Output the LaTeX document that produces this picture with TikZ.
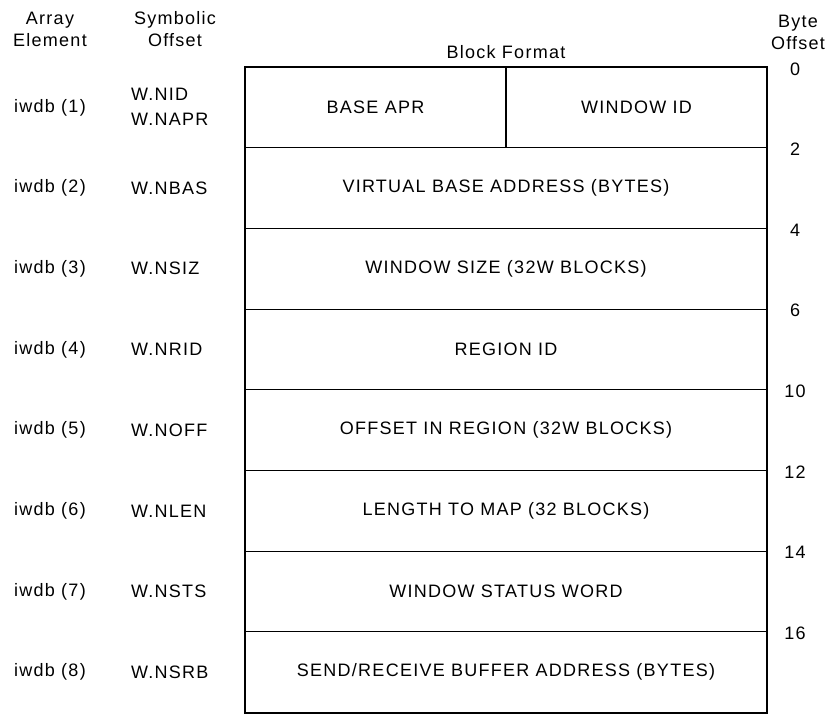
\documentclass[tikz,border=0pt]{standalone}
\usepackage{fontspec}
\setmainfont[LetterSpace=7]{Liberation Sans}
\usetikzlibrary{positioning}

\begin{document}
\begin{tikzpicture}[x=1pt, y=-1pt, line cap=rect, line join=miter,
  every node/.style={font=\fontsize{18}{22}\selectfont, inner sep=0pt},
  field/.style={draw, line width=1.1pt, minimum width=522pt, minimum height=80.7pt},
  half/.style={draw, line width=1.1pt, minimum width=261pt, minimum height=80.7pt},
  elem/.style={},
  sym/.style={anchor=west},
  boff/.style={}]

\useasboundingbox (0,0) rectangle (825,713);

% column headings
\node[align=center] (hdarr) at (50,29) {Array\\Element};
\node[align=center] (hdsym) at (175,29) {Symbolic\\Offset};
\node (hdblk) at (506,52) {Block Format};
\node[align=center] (hdbyte) at (798,32) {Byte\\Offset};

% block format
\node[half] (apr) at (375.5,107.35) {BASE APR};
\node[half] (wid) at (636.5,107.35) {WINDOW ID};
\node[field] (nbas) at (506,188.05) {VIRTUAL BASE ADDRESS (BYTES)};
\node[field] (nsiz) at (506,268.75) {WINDOW SIZE (32W BLOCKS)};
\node[field] (nrid) at (506,349.45) {REGION ID};
\node[field] (noff) at (506,430.15) {OFFSET IN REGION (32W BLOCKS)};
\node[field] (nlen) at (506,510.85) {LENGTH TO MAP (32 BLOCKS)};
\node[field] (nsts) at (506,591.55) {WINDOW STATUS WORD};
\node[field] (nsrb) at (506,672.25) {SEND/RECEIVE BUFFER ADDRESS (BYTES)};
\draw[line width=1.6pt] (apr.north west) rectangle (nsrb.south east);

% array elements
\node[elem] (e1) at (50,107.35) {iwdb (1)};
\node[elem] (e2) at (50,188.05) {iwdb (2)};
\node[elem] (e3) at (50,268.75) {iwdb (3)};
\node[elem] (e4) at (50,349.45) {iwdb (4)};
\node[elem] (e5) at (50,430.15) {iwdb (5)};
\node[elem] (e6) at (50,510.85) {iwdb (6)};
\node[elem] (e7) at (50,591.55) {iwdb (7)};
\node[elem] (e8) at (50,672.25) {iwdb (8)};

% symbolic offsets
\node[sym] (s1a) at (131,94) {W.NID};
\node[sym] (s1b) at (131,119) {W.NAPR};
\node[sym] (s2) at (131,188.05) {W.NBAS};
\node[sym] (s3) at (131,268.75) {W.NSIZ};
\node[sym] (s4) at (131,349.45) {W.NRID};
\node[sym] (s5) at (131,430.15) {W.NOFF};
\node[sym] (s6) at (131,510.85) {W.NLEN};
\node[sym] (s7) at (131,591.55) {W.NSTS};
\node[sym] (s8) at (131,672.25) {W.NSRB};

% byte offsets
\node[boff] (b0) at (795,69) {0};
\node[boff] (b2) at (795,149) {2};
\node[boff] (b4) at (795,230) {4};
\node[boff] (b6) at (795,310) {6};
\node[boff] (b10) at (795,391) {10};
\node[boff] (b12) at (795,472) {12};
\node[boff] (b14) at (795,552) {14};
\node[boff] (b16) at (795,633) {16};

\end{tikzpicture}
\end{document}
